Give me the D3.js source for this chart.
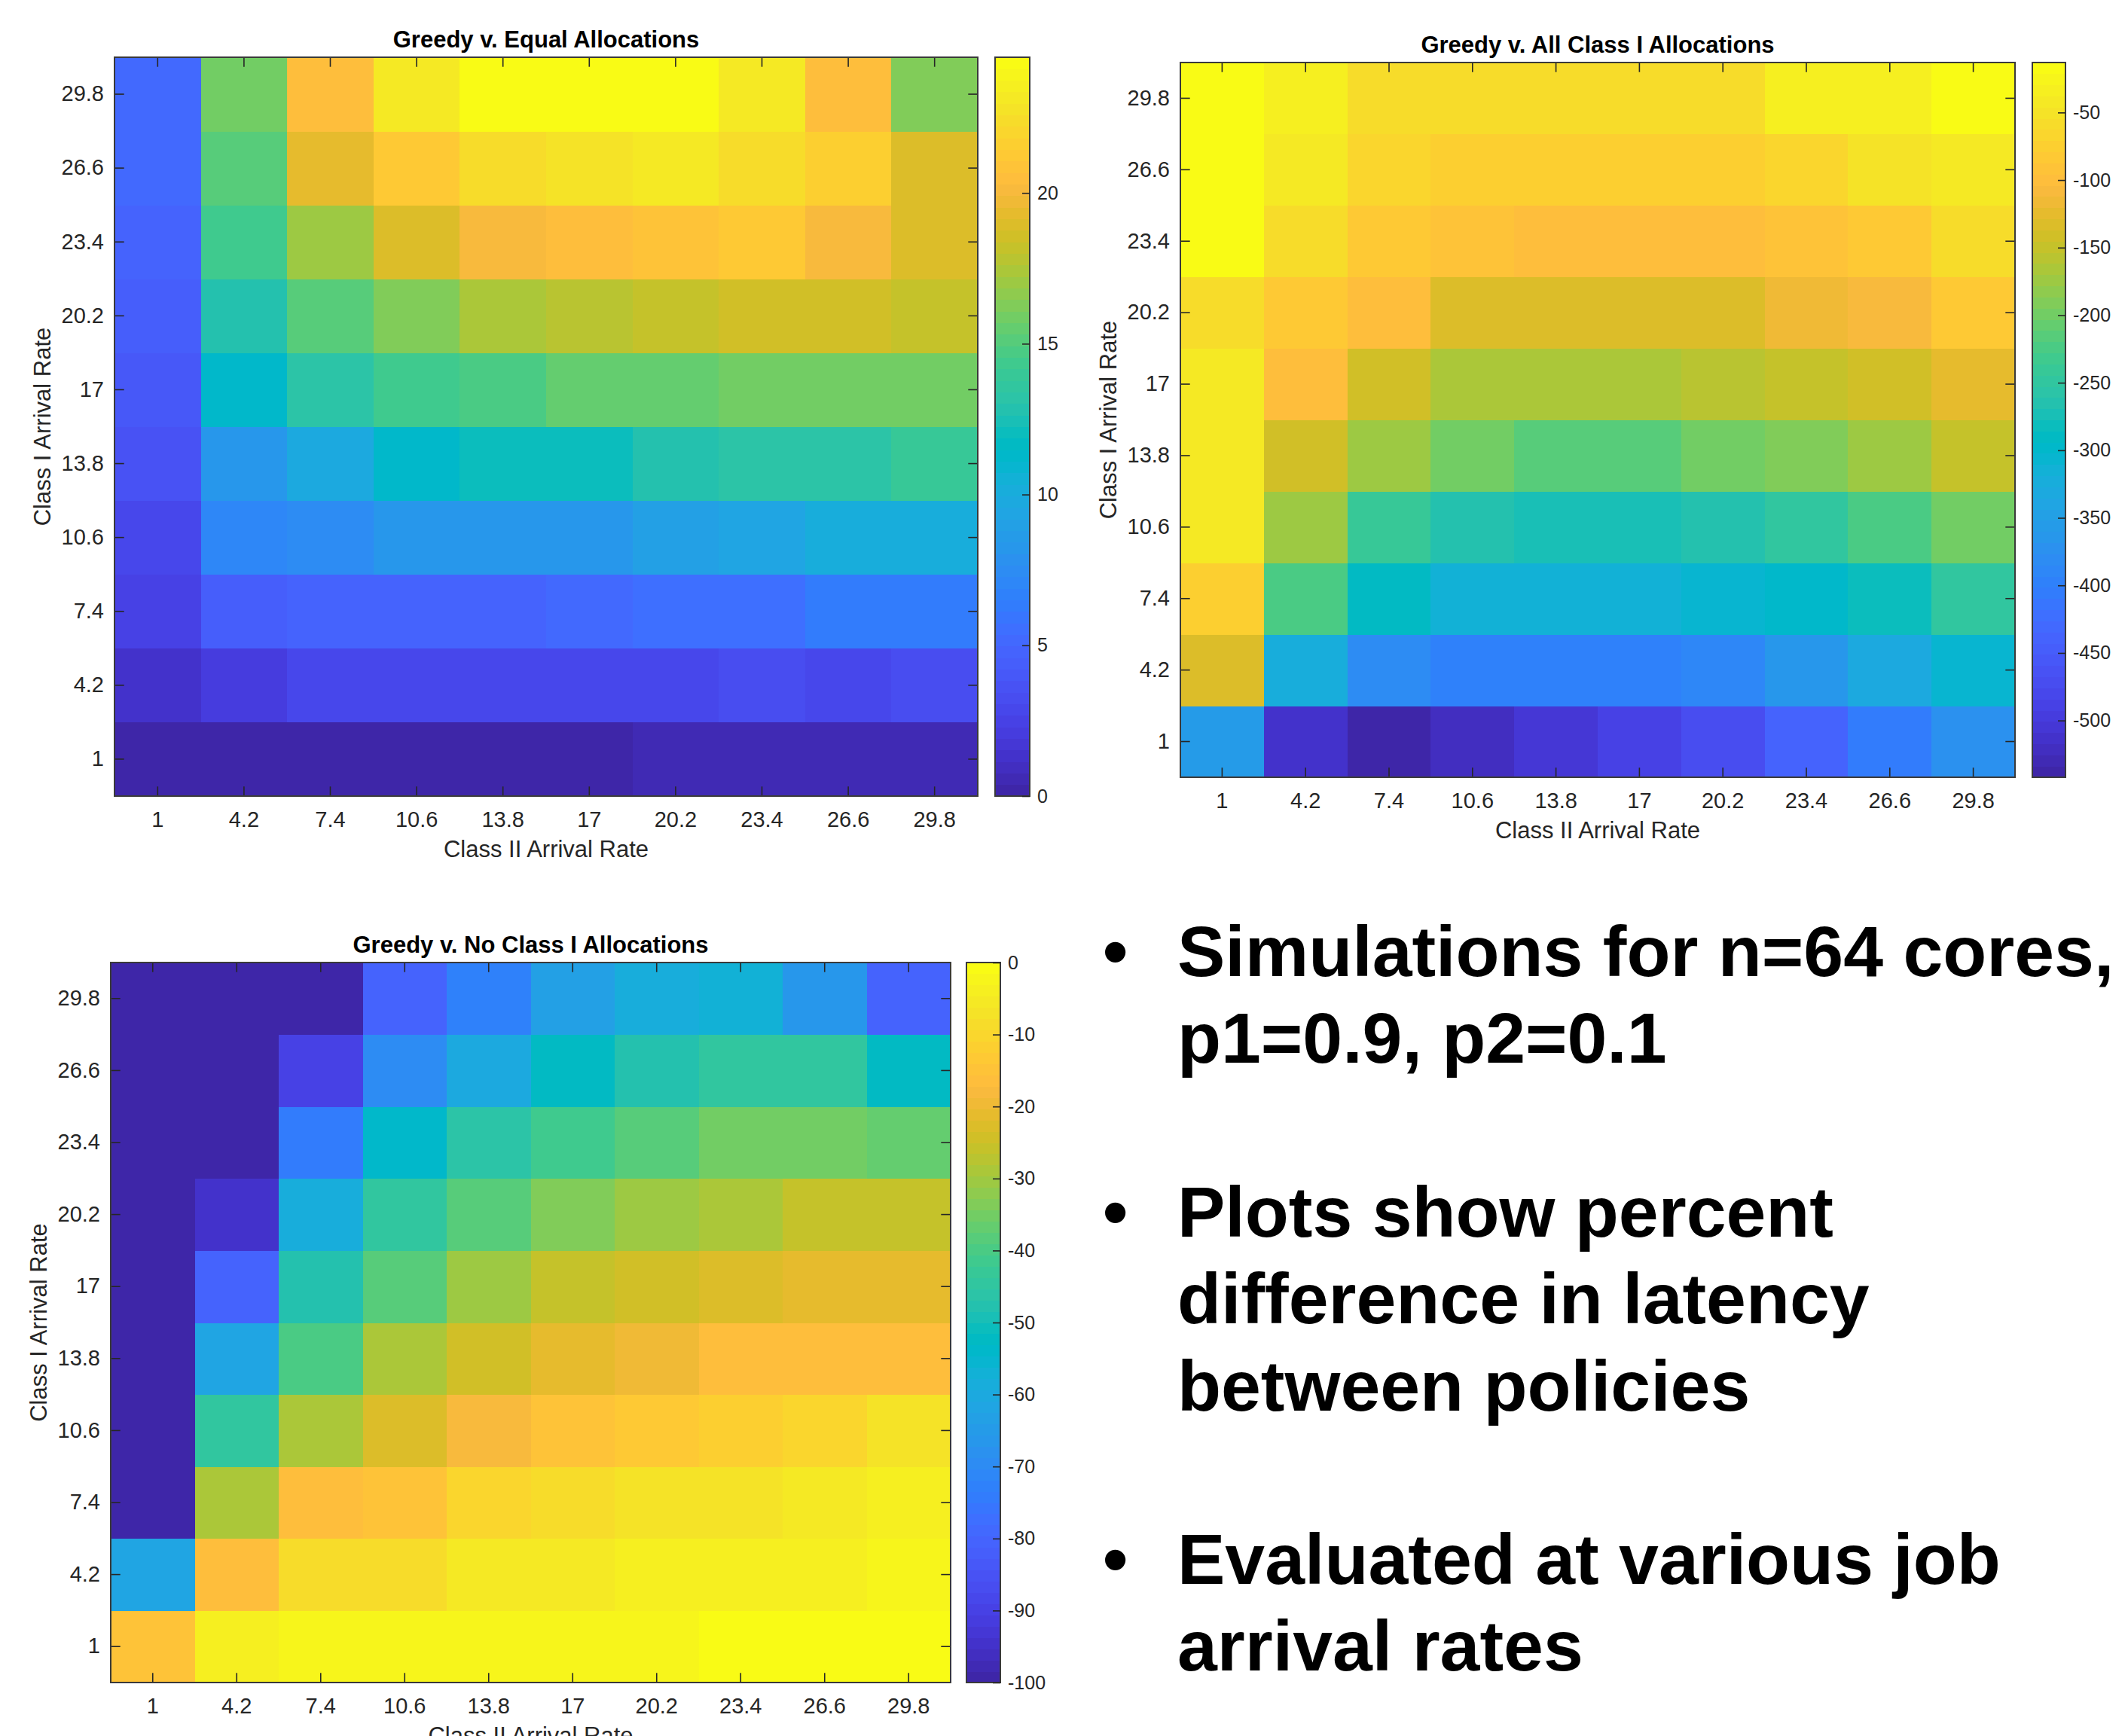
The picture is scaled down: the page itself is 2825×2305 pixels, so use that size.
<!DOCTYPE html>
<html>
<head>
<meta charset="utf-8">
<script src="https://cdn.jsdelivr.net/npm/d3@7"></script>
<style>
  body { margin: 0; background: #fff; }
  svg { display: block; font-family: "Liberation Sans", Arial, Helvetica, sans-serif; }
</style>
</head>
<body>
<div id="chart"></div>
<script>
// arrival rates used on both axes
var classIIRates = ["1", "4.2", "7.4", "10.6", "13.8", "17", "20.2", "23.4", "26.6", "29.8"];
var classIRates = ["1", "4.2", "7.4", "10.6", "13.8", "17", "20.2", "23.4", "26.6", "29.8"];

// percent difference in latency
// one row per Class I rate (1 first), one value per Class II rate
var equalDiff = [
  [0.3, 0.2, 0.3, 0.2, 0.3, 0.0, 0.6, 0.6, 0.5, 0.6],
  [1.3, 2.1, 2.8, 2.8, 2.8, 2.7, 3.0, 3.1, 3.0, 3.1],
  [2.5, 4.3, 4.7, 4.8, 4.9, 5.1, 5.5, 5.7, 6.2, 6.3],
  [2.9, 7.0, 7.4, 8.2, 8.3, 8.1, 8.9, 9.3, 10.1, 10.1],
  [3.6, 8.1, 9.7, 11.2, 12.0, 12.0, 12.8, 13.1, 13.2, 14.0],
  [4.0, 11.3, 13.2, 14.4, 14.8, 15.4, 15.6, 15.9, 15.9, 15.9],
  [4.4, 12.8, 15.1, 16.2, 17.6, 17.8, 18.2, 18.6, 18.6, 18.2],
  [4.8, 14.2, 17.0, 19.0, 20.1, 20.3, 21.0, 21.2, 20.1, 19.0],
  [5.2, 15.1, 19.2, 21.2, 22.4, 22.8, 23.1, 22.4, 21.6, 19.0],
  [5.2, 15.9, 20.6, 23.1, 24.4, 24.5, 24.4, 23.2, 20.6, 16.2]
];

var allClassIDiff = [
  [-360, -513, -542, -521, -508, -489, -472, -437, -406, -372],
  [-135, -323, -381, -398, -398, -398, -389, -364, -331, -306],
  [-79, -224, -290, -315, -315, -315, -306, -298, -282, -248],
  [-44, -174, -244, -265, -273, -273, -265, -248, -224, -195],
  [-42, -141, -174, -199, -215, -215, -203, -191, -174, -149],
  [-42, -100, -141, -166, -166, -166, -157, -149, -141, -124],
  [-60, -83, -100, -133, -133, -133, -133, -120, -108, -83],
  [-13, -58, -83, -95, -100, -100, -100, -91, -83, -58],
  [-17, -42, -67, -75, -75, -75, -75, -67, -50, -42],
  [-15, -33, -58, -60, -60, -60, -58, -37, -33, -14]
];

var noClassIDiff = [
  [-15, -4, -2, -2, -2, -2, -2, 0, -0.5, -0.5],
  [-62, -16, -9, -9, -5, -5, -4, -4, -4, -3],
  [-100, -29, -17, -15, -10, -8, -7, -7, -5.5, -4],
  [-100, -45, -29, -23, -18, -15, -13, -12, -10, -7],
  [-100, -62, -40, -29, -24, -21, -19, -16, -16, -16],
  [-100, -80, -48, -38, -31, -26, -24, -23, -21, -21],
  [-100, -94.5, -59, -45, -38, -34, -31, -29, -26, -26],
  [-100, -100, -74, -54, -46, -41, -38, -35, -35, -37],
  [-100, -100, -90, -69, -60, -52, -47, -45, -45, -52],
  [-100, -100, -100, -80, -72, -64, -59, -57, -66, -80]
];

// colorbar tick labels
var equalTicks = [0, 5, 10, 15, 20];
var allClassITicks = [-500, -450, -400, -350, -300, -250, -200, -150, -100, -50];
var noClassITicks = [-100, -90, -80, -70, -60, -50, -40, -30, -20, -10, 0];

var titles = ["Greedy v. Equal Allocations", "Greedy v. All Class I Allocations", "Greedy v. No Class I Allocations"];

var bullets = [
  ["Simulations for n=64 cores,", "p1=0.9, p2=0.1"],
  ["Plots show percent", "difference in latency", "between policies"],
  ["Evaluated at various job", "arrival rates"]
];

// parula, 64 levels
var parula = [
  [0.2422,0.1504,0.6603],[0.2504,0.1650,0.7076],[0.2578,0.1818,0.7511],[0.2647,0.1978,0.7952],
  [0.2706,0.2147,0.8364],[0.2751,0.2342,0.8710],[0.2783,0.2559,0.8991],[0.2803,0.2782,0.9221],
  [0.2813,0.3006,0.9414],[0.2810,0.3228,0.9579],[0.2795,0.3447,0.9717],[0.2760,0.3667,0.9829],
  [0.2699,0.3892,0.9906],[0.2602,0.4123,0.9952],[0.2440,0.4358,0.9988],[0.2206,0.4603,0.9973],
  [0.1963,0.4847,0.9892],[0.1834,0.5074,0.9798],[0.1786,0.5289,0.9682],[0.1764,0.5499,0.9520],
  [0.1687,0.5703,0.9359],[0.1540,0.5902,0.9218],[0.1460,0.6091,0.9079],[0.1380,0.6276,0.8973],
  [0.1248,0.6459,0.8883],[0.1113,0.6635,0.8763],[0.0952,0.6798,0.8598],[0.0689,0.6948,0.8394],
  [0.0297,0.7082,0.8163],[0.0036,0.7203,0.7917],[0.0067,0.7312,0.7660],[0.0433,0.7411,0.7394],
  [0.0964,0.7500,0.7120],[0.1408,0.7584,0.6842],[0.1717,0.7670,0.6554],[0.1938,0.7758,0.6251],
  [0.2161,0.7843,0.5923],[0.2470,0.7918,0.5567],[0.2906,0.7973,0.5188],[0.3406,0.8008,0.4789],
  [0.3909,0.8029,0.4354],[0.4456,0.8024,0.3909],[0.5044,0.7993,0.3480],[0.5616,0.7942,0.3045],
  [0.6174,0.7876,0.2612],[0.6720,0.7793,0.2227],[0.7242,0.7698,0.1910],[0.7738,0.7598,0.1646],
  [0.8203,0.7498,0.1535],[0.8634,0.7406,0.1596],[0.9035,0.7330,0.1774],[0.9393,0.7288,0.2100],
  [0.9728,0.7298,0.2394],[0.9956,0.7434,0.2371],[0.9970,0.7659,0.2199],[0.9952,0.7893,0.2028],
  [0.9892,0.8136,0.1885],[0.9786,0.8386,0.1766],[0.9676,0.8639,0.1643],[0.9610,0.8890,0.1537],
  [0.9597,0.9135,0.1423],[0.9628,0.9373,0.1265],[0.9691,0.9606,0.1064],[0.9769,0.9839,0.0805]
].map(function (c) { return d3.rgb(c[0] * 255, c[1] * 255, c[2] * 255).formatHex(); });

var svg = d3.select("#chart").append("svg")
  .attr("width", 2825)
  .attr("height", 2305);

svg.append("rect").attr("width", 2825).attr("height", 2305).attr("fill", "#fff");

var panels = [
  { values: equalDiff, ticks: equalTicks, x0: 152, x1: 1298, y0: 76, y1: 1057, cb0: 1321, cb1: 1367 },
  { values: allClassIDiff, ticks: allClassITicks, x0: 1567, x1: 2675, y0: 83, y1: 1032, cb0: 2698, cb1: 2742 },
  { values: noClassIDiff, ticks: noClassITicks, x0: 147, x1: 1262, y0: 1278, y1: 2234, cb0: 1283, cb1: 1328 }
];

var axisColor = "#262626";

function styleAxis(g, fontSize) {
  g.select(".domain").remove();
  g.selectAll("line").attr("stroke", axisColor).attr("stroke-width", 1.6);
  g.selectAll("text")
    .attr("fill", axisColor)
    .style("font-size", fontSize + "px")
    .style("font-family", "'Liberation Sans', Arial, sans-serif");
}

function drawHeatmap(p, title) {
  var x = d3.scaleBand().domain(classIIRates).range([p.x0, p.x1]);
  var y = d3.scaleBand().domain(classIRates).range([p.y1, p.y0]);

  var all = d3.merge(p.values);
  var colour = d3.scaleQuantize().domain(d3.extent(all)).range(parula);

  var g = svg.append("g");

  var cells = [];
  p.values.forEach(function (row, i) {
    row.forEach(function (v, j) {
      cells.push({ cx: classIIRates[j], cy: classIRates[i], v: v });
    });
  });

  g.selectAll("rect.cell")
    .data(cells)
    .enter().append("rect")
    .attr("class", "cell")
    .attr("x", function (d) { return x(d.cx); })
    .attr("y", function (d) { return y(d.cy); })
    .attr("width", x.bandwidth() + 0.5)
    .attr("height", y.bandwidth() + 0.5)
    .attr("fill", function (d) { return colour(d.v); })
    .attr("shape-rendering", "crispEdges");

  // ticks point inwards on all four sides, like matlab
  var tick = 12.7;
  g.append("g").attr("transform", "translate(0," + p.y1 + ")")
    .call(d3.axisBottom(x).tickSizeInner(-tick).tickSizeOuter(0).tickPadding(20))
    .call(styleAxis, 29);
  g.append("g").attr("transform", "translate(0," + p.y0 + ")")
    .call(d3.axisTop(x).tickSizeInner(-tick).tickSizeOuter(0).tickFormat(""))
    .call(styleAxis, 29);
  g.append("g").attr("transform", "translate(" + p.x0 + ",0)")
    .call(d3.axisLeft(y).tickSizeInner(-tick).tickSizeOuter(0).tickPadding(14))
    .call(styleAxis, 29);
  g.append("g").attr("transform", "translate(" + p.x1 + ",0)")
    .call(d3.axisRight(y).tickSizeInner(-tick).tickSizeOuter(0).tickFormat(""))
    .call(styleAxis, 29);

  g.append("rect")
    .attr("x", p.x0).attr("y", p.y0)
    .attr("width", p.x1 - p.x0).attr("height", p.y1 - p.y0)
    .attr("fill", "none")
    .attr("stroke", "#3a3a3a")
    .attr("stroke-width", 2);

  g.append("text")
    .attr("x", (p.x0 + p.x1) / 2)
    .attr("y", p.y0 - 13)
    .attr("text-anchor", "middle")
    .style("font-size", "31px")
    .style("font-weight", "bold")
    .attr("fill", "#000")
    .text(title);

  g.append("text")
    .attr("x", (p.x0 + p.x1) / 2)
    .attr("y", p.y1 + 81)
    .attr("text-anchor", "middle")
    .style("font-size", "31px")
    .attr("fill", axisColor)
    .text("Class II Arrival Rate");

  g.append("text")
    .attr("transform", "translate(" + (p.x0 - 85) + "," + ((p.y0 + p.y1) / 2) + ") rotate(-90)")
    .attr("text-anchor", "middle")
    .style("font-size", "31px")
    .attr("fill", axisColor)
    .text("Class I Arrival Rate");

  // colorbar
  var cbY = d3.scaleLinear().domain(colour.domain()).range([p.y1, p.y0]);
  var cb = svg.append("g");
  cb.selectAll("rect.band")
    .data(parula)
    .enter().append("rect")
    .attr("class", "band")
    .attr("x", p.cb0)
    .attr("width", p.cb1 - p.cb0)
    .attr("y", function (c) { return cbY(colour.invertExtent(c)[1]); })
    .attr("height", function (c) {
      var e = colour.invertExtent(c);
      return cbY(e[0]) - cbY(e[1]) + 0.5;
    })
    .attr("fill", function (c) { return c; })
    .attr("shape-rendering", "crispEdges");

  cb.append("rect")
    .attr("x", p.cb0).attr("y", p.y0)
    .attr("width", p.cb1 - p.cb0).attr("height", p.y1 - p.y0)
    .attr("fill", "none")
    .attr("stroke", "#3a3a3a")
    .attr("stroke-width", 2);

  cb.append("g").attr("transform", "translate(" + p.cb1 + ",0)")
    .call(d3.axisRight(cbY).tickValues(p.ticks).tickSizeInner(-10).tickSizeOuter(0).tickPadding(10)
      .tickFormat(function (d) { return String(d); }))
    .call(styleAxis, 25);
}

panels.forEach(function (p, i) { drawHeatmap(p, titles[i]); });

// bullet list on the right
var lineGap = 115.3;
var textG = svg.append("g")
  .style("font-size", "95px")
  .style("font-weight", "bold")
  .attr("fill", "#000");

var line = 0;
bullets.forEach(function (b, bi) {
  if (bi > 0) line += 1;
  textG.append("text")
    .attr("x", 1464)
    .attr("y", 1296 + line * lineGap)
    .text("\u2022");
  b.forEach(function (t) {
    textG.append("text")
      .attr("x", 1563)
      .attr("y", 1296 + line * lineGap)
      .text(t);
    line += 1;
  });
});
</script>
</body>
</html>
